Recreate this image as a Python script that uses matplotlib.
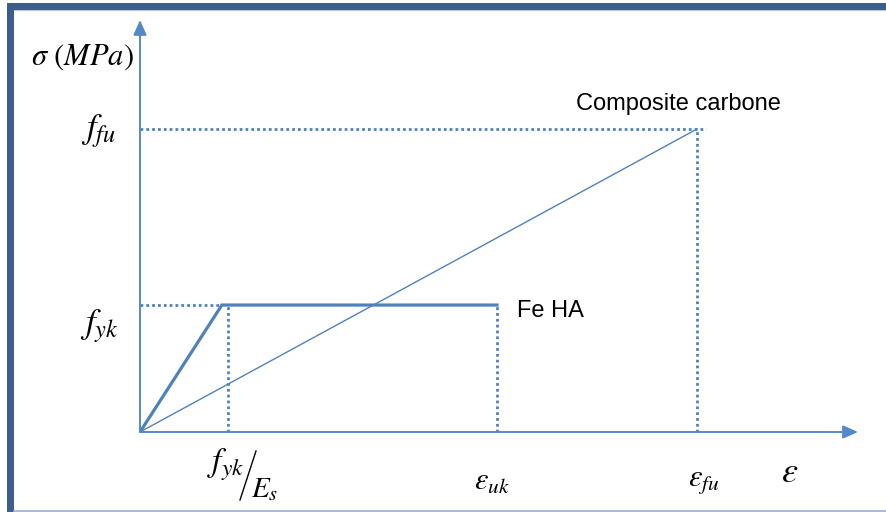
import matplotlib.pyplot as plt
from matplotlib.patches import Rectangle
from matplotlib.lines import Line2D

# Diagramme contrainte-deformation (valeurs relatives, eps_fu = 1, f_fu = 1)
eps_yk = 0.147       # fin de la partie elastique Fe HA
eps_yk_mark = 0.158  # repere f_yk/E_s
eps_uk = 0.641
eps_fu = 1.0
f_yk = 0.419
f_fu = 1.0

fe_ha_x = [0, eps_yk, eps_uk]
fe_ha_y = [0, f_yk, f_yk]
carbone_x = [0, eps_fu]
carbone_y = [0, f_fu]

W, H = 887, 512
blue = '#4f81bd'
plt.rcParams['mathtext.fontset'] = 'stix'

fig = plt.figure(figsize=(W / 100, H / 100), dpi=100)
fig.patch.set_facecolor('white')


def px(x, y):
    # position en pixels -> fraction de la figure
    return x / W, 1 - y / H


# axes: origine a (140, 432), eps_fu a x=697, f_fu a y=129
ax = fig.add_axes([140 / W, 80 / H, (858 - 140) / W, (432 - 20) / H])
ax.set_xlim(0, (858 - 140) / 557)
ax.set_ylim(0, (432 - 20) / 303)
ax.axis('off')

# fleches des axes
arrow = dict(arrowstyle='-|>,head_length=0.9,head_width=0.4', color='#5588c8',
             lw=1.4, shrinkA=0, shrinkB=0)
ax.annotate('', xy=(1, 0), xytext=(0, 0), xycoords='axes fraction', arrowprops=arrow)
ax.annotate('', xy=(0, 1), xytext=(0, 0), xycoords='axes fraction', arrowprops=arrow)

dots = dict(color=blue, lw=2.0, dashes=(1, 1.1))
ax.plot([0, eps_fu * 1.016], [f_fu, f_fu], **dots)
ax.plot([eps_fu, eps_fu], [0, f_fu], **dots)
ax.plot([0, eps_yk], [f_yk, f_yk], **dots)
ax.plot([eps_yk_mark, eps_yk_mark], [0, f_yk], **dots)
ax.plot([eps_uk, eps_uk], [0, f_yk], **dots)

ax.plot(carbone_x, carbone_y, color=blue, lw=1.0)
ax.plot(fe_ha_x, fe_ha_y, color=blue, lw=2.3, solid_joinstyle='miter')

# textes
fig.text(*px(576, 104), 'Composite carbone', fontsize=17, family='Liberation Sans',
         ha='left', va='center')
fig.text(*px(517, 311), 'Fe HA', fontsize=17, family='Liberation Sans',
         ha='left', va='center')

fig.text(*px(82, 57), r'$\sigma\ (MPa)$', fontsize=22, ha='center', va='center')
fig.text(*px(99, 131), r'$f_{fu}$', fontsize=25, ha='center', va='center')
fig.text(*px(99, 326), r'$f_{yk}$', fontsize=25, ha='center', va='center')
# f_yk / E_s en fraction oblique
fig.text(*px(226, 465), r'$f_{yk}$', fontsize=24, ha='center', va='center')
fig.lines.append(Line2D([px(240, 500)[0], px(256, 451)[0]],
                        [px(240, 500)[1], px(256, 451)[1]],
                        transform=fig.transFigure, color='black', lw=1.0))
fig.text(*px(265, 489), r'$E_s$', fontsize=21, ha='center', va='center')
fig.text(*px(492, 481), r'$\varepsilon_{uk}$', fontsize=22, ha='center', va='center')
fig.text(*px(704, 481), r'$\varepsilon_{fu}$', fontsize=22, ha='center', va='center')
fig.text(*px(790, 472), r'$\varepsilon$', fontsize=26, ha='center', va='center')

# cadre
dark = '#3b5e8c'
fig.patches.append(Rectangle(px(7, 512), 7 / W, 509 / H, transform=fig.transFigure,
                             facecolor=dark, edgecolor='none'))
fig.patches.append(Rectangle(px(7, 9.5), (W - 7) / W, 6.5 / H, transform=fig.transFigure,
                             facecolor=dark, edgecolor='none'))
fig.lines.append(Line2D([14 / W, 1], [1 - 10 / H, 1 - 10 / H], transform=fig.transFigure,
                        color='#b8c8dc', lw=0.8))
fig.lines.append(Line2D([14 / W, 1], [1 - 510.5 / H, 1 - 510.5 / H], transform=fig.transFigure,
                        color='#9bb1cc', lw=1.2))

fig.savefig('out.png', dpi=100, facecolor='white')
